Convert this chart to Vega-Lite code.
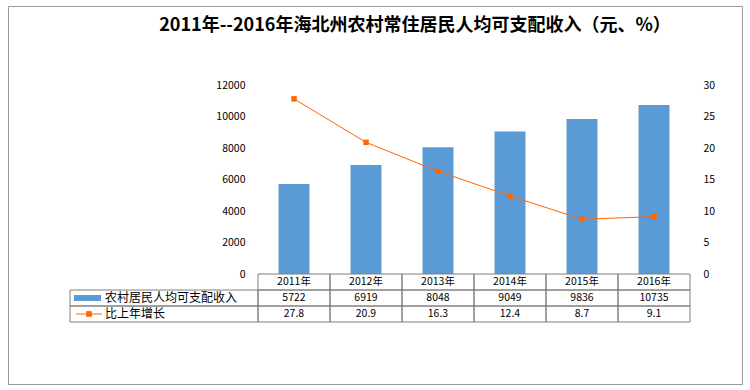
{
  "$schema": "https://vega.github.io/schema/vega-lite/v6.json",
  "width": 734,
  "height": 378,
  "autosize": "none",
  "padding": {"left": 8, "top": 6, "right": 8, "bottom": 6},
  "background": "white",
  "config": {
    "view": {"stroke": "#9a9a9a", "strokeWidth": 1},
    "font": "Noto Sans CJK SC",
    "text": {"font": "Noto Sans CJK SC", "fontSize": 10, "color": "#000000"}
  },
  "title": {
    "text": "2011年--2016年海北州农村常住居民人均可支配收入（元、%）",
    "fontSize": 18,
    "fontWeight": "bold",
    "font": "Noto Sans CJK SC",
    "color": "#000000",
    "anchor": "middle",
    "dx": 40,
    "offset": -38,
    "baseline": "middle"
  },
  "datasets": {
    "main": [
      {"year": "2011年", "income": 5722, "growth": 27.8},
      {"year": "2012年", "income": 6919, "growth": 20.9},
      {"year": "2013年", "income": 8048, "growth": 16.3},
      {"year": "2014年", "income": 9049, "growth": 12.4},
      {"year": "2015年", "income": 9836, "growth": 8.7},
      {"year": "2016年", "income": 10735, "growth": 9.1}
    ],
    "series": [
      {"row": "income", "label": "农村居民人均可支配收入"},
      {"row": "growth", "label": "比上年增长"}
    ]
  },
  "data": {"name": "main"},
  "resolve": {"scale": {"x": "independent", "y": "independent"}},
  "layer": [
    {
      "mark": {"type": "bar", "color": "#5B9BD5", "width": {"band": 0.43}},
      "encoding": {
        "x": {"field": "year", "type": "nominal", "sort": null,
              "scale": {"type": "band", "range": [250, 682], "paddingInner": 0, "paddingOuter": 0}, "axis": null},
        "y": {"field": "income", "type": "quantitative",
              "scale": {"domain": [0, 12000], "range": [268, 79], "nice": false, "zero": true},
              "axis": {"orient": "left", "offset": -250, "values": [0, 2000, 4000, 6000, 8000, 10000, 12000], "format": "d",
                       "domain": false, "ticks": false, "grid": false, "labelPadding": 13,
                       "labelFontSize": 10.5, "labelColor": "#000000", "labelFont": "Noto Sans CJK SC", "title": null}}
      }
    },
    {
      "mark": {"type": "line", "color": "#FF6600", "strokeWidth": 1,
               "point": {"filled": true, "shape": "square", "size": 30, "color": "#FF6600"}},
      "encoding": {
        "x": {"field": "year", "type": "nominal", "sort": null,
              "scale": {"type": "band", "range": [250, 682], "paddingInner": 0, "paddingOuter": 0}, "axis": null},
        "y": {"field": "growth", "type": "quantitative",
              "scale": {"domain": [0, 30], "range": [268, 79], "nice": false, "zero": true},
              "axis": {"orient": "right", "offset": -52, "values": [0, 5, 10, 15, 20, 25, 30],
                       "domain": false, "ticks": false, "grid": false, "labelPadding": 13,
                       "labelFontSize": 10.5, "labelColor": "#000000", "labelFont": "Noto Sans CJK SC", "title": null}}
      }
    },
    {
      "mark": {"type": "rect", "fill": "white", "fillOpacity": 0, "stroke": "#808080", "strokeWidth": 1},
      "encoding": {
        "x": {"field": "year", "type": "nominal", "sort": null,
              "scale": {"type": "band", "range": [250, 682], "paddingInner": 0, "paddingOuter": 0}, "axis": null},
        "y": {"datum": "header", "type": "nominal",
              "scale": {"type": "band", "domain": ["header", "income", "growth"], "range": [268, 316], "paddingInner": 0, "paddingOuter": 0}, "axis": null}
      }
    },
    {
      "transform": [{"fold": ["income", "growth"], "as": ["row", "value"]}],
      "mark": {"type": "rect", "fill": "white", "fillOpacity": 0, "stroke": "#808080", "strokeWidth": 1},
      "encoding": {
        "x": {"field": "year", "type": "nominal", "sort": null,
              "scale": {"type": "band", "range": [250, 682], "paddingInner": 0, "paddingOuter": 0}, "axis": null},
        "y": {"field": "row", "type": "nominal",
              "scale": {"type": "band", "domain": ["header", "income", "growth"], "range": [268, 316], "paddingInner": 0, "paddingOuter": 0}, "axis": null}
      }
    },
    {
      "mark": {"type": "text", "fontSize": 10.5, "color": "#000000"},
      "encoding": {
        "x": {"field": "year", "type": "nominal", "sort": null,
              "scale": {"type": "band", "range": [250, 682], "paddingInner": 0, "paddingOuter": 0}, "axis": null},
        "y": {"datum": "header", "type": "nominal",
              "scale": {"type": "band", "domain": ["header", "income", "growth"], "range": [268, 316], "paddingInner": 0, "paddingOuter": 0}, "axis": null},
        "text": {"field": "year", "type": "nominal"}
      }
    },
    {
      "transform": [{"fold": ["income", "growth"], "as": ["row", "value"]}],
      "mark": {"type": "text", "fontSize": 10.5, "color": "#000000"},
      "encoding": {
        "x": {"field": "year", "type": "nominal", "sort": null,
              "scale": {"type": "band", "range": [250, 682], "paddingInner": 0, "paddingOuter": 0}, "axis": null},
        "y": {"field": "row", "type": "nominal",
              "scale": {"type": "band", "domain": ["header", "income", "growth"], "range": [268, 316], "paddingInner": 0, "paddingOuter": 0}, "axis": null},
        "text": {"field": "value", "type": "nominal"}
      }
    },
    {
      "data": {"name": "series"},
      "mark": {"type": "rect", "fill": "white", "fillOpacity": 0, "stroke": "#808080", "strokeWidth": 1},
      "encoding": {
        "x": {"datum": "legend", "type": "nominal",
              "scale": {"type": "band", "domain": ["legend"], "range": [62, 250], "paddingInner": 0, "paddingOuter": 0}, "axis": null},
        "y": {"field": "row", "type": "nominal",
              "scale": {"type": "band", "domain": ["header", "income", "growth"], "range": [268, 316], "paddingInner": 0, "paddingOuter": 0}, "axis": null}
      }
    },
    {
      "data": {"name": "series"},
      "mark": {"type": "text", "fontSize": 12, "color": "#000000", "align": "left", "dx": -59},
      "encoding": {
        "x": {"datum": "legend", "type": "nominal",
              "scale": {"type": "band", "domain": ["legend"], "range": [62, 250], "paddingInner": 0, "paddingOuter": 0}, "axis": null},
        "y": {"field": "row", "type": "nominal",
              "scale": {"type": "band", "domain": ["header", "income", "growth"], "range": [268, 316], "paddingInner": 0, "paddingOuter": 0}, "axis": null},
        "text": {"field": "label", "type": "nominal"}
      }
    },
    {
      "data": {"name": "series"},
      "transform": [{"filter": {"field": "row", "equal": "income"}}],
      "mark": {"type": "point", "filled": true, "fill": "#5B9BD5", "opacity": 1, "strokeWidth": 0,
               "shape": "M-1,-0.22H1V0.22H-1Z", "size": 729, "xOffset": -76.5},
      "encoding": {
        "x": {"datum": "legend", "type": "nominal",
              "scale": {"type": "band", "domain": ["legend"], "range": [62, 250], "paddingInner": 0, "paddingOuter": 0}, "axis": null},
        "y": {"field": "row", "type": "nominal",
              "scale": {"type": "band", "domain": ["header", "income", "growth"], "range": [268, 316], "paddingInner": 0, "paddingOuter": 0}, "axis": null}
      }
    },
    {
      "data": {"name": "series"},
      "transform": [{"filter": {"field": "row", "equal": "growth"}}],
      "mark": {"type": "point", "filled": true, "fill": "#FF6600", "stroke": "#FF6600", "strokeWidth": 1, "opacity": 1,
               "shape": "M-1,0H1M-0.18,-0.18H0.18V0.18H-0.18Z", "size": 676, "xOffset": -75},
      "encoding": {
        "x": {"datum": "legend", "type": "nominal",
              "scale": {"type": "band", "domain": ["legend"], "range": [62, 250], "paddingInner": 0, "paddingOuter": 0}, "axis": null},
        "y": {"field": "row", "type": "nominal",
              "scale": {"type": "band", "domain": ["header", "income", "growth"], "range": [268, 316], "paddingInner": 0, "paddingOuter": 0}, "axis": null}
      }
    }
  ]
}
